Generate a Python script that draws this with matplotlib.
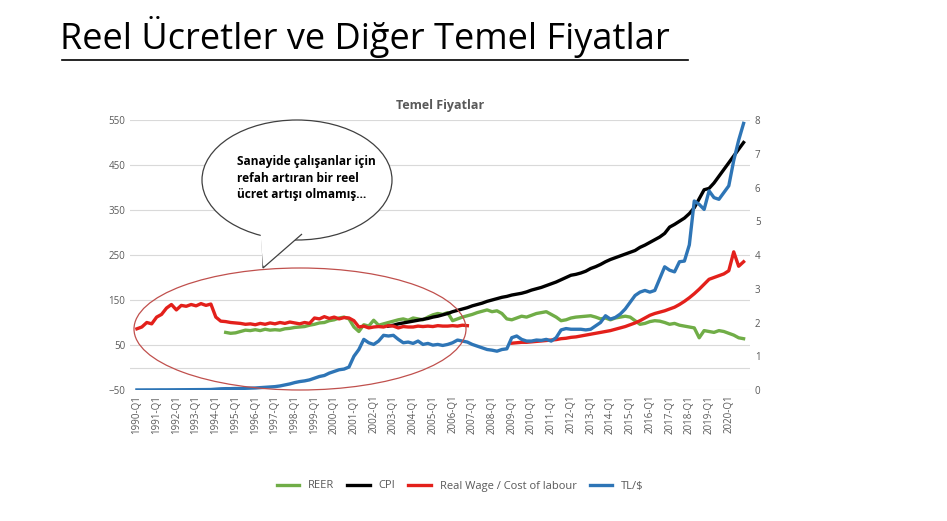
import numpy as np
import matplotlib
matplotlib.use("Agg")
import matplotlib.pyplot as plt
from matplotlib.patches import Ellipse, Polygon

nan = np.nan
years = list(range(1990, 2021))
quarters = [f"{y}-Q{q}" for y in years for q in range(1, 5)]

# Real wage / cost of labour (left axis)
real_wage = [
    86, 90, 100, 97,  112, 118, 132, 140,  128, 138, 136, 140,  137, 142, 138, 141,
    112, 103, 102, 100,  99, 98, 96, 97,  95, 98, 96, 99,  97, 100, 98, 101,
    99, 97, 100, 98,  110, 108, 113, 109,  112, 108, 111, 110,  104, 90, 92, 88,
    90, 91, 90, 93,  92, 88, 91, 90,  90, 92, 91, 92,  91, 93, 92, 92,
    93, 92, 94, 93,  nan, nan, nan, nan,  nan, nan, nan, nan,
    54, 55, 56, 56,  57, 58, 59, 60,  61, 62, 64, 65,  67, 68, 70, 72,
    74, 76, 78, 80,  82, 85, 88, 91,  95, 99, 104, 110,  116, 120, 123, 126,
    130, 134, 140, 147,  155, 164, 174, 185,  196, 200, 204, 208,  215, 257, 225, 235,
]

# CPI (left axis)
cpi = [nan] * 51 + [
    92,  94, 97, 99, 101,  103, 105, 107, 109,  112, 114, 117, 120,
    124, 127, 130, 133,  137, 140, 143, 147,  150, 153, 156, 158,
    161, 163, 165, 168,  172, 175, 178, 182,  186, 190, 195, 200,
    205, 207, 210, 214,  220, 224, 229, 235,  240, 244, 248, 252,
    256, 260, 267, 272,  278, 284, 290, 298,  312, 318, 325, 332,
    342, 355, 375, 395,  398, 410, 425, 440,  455, 470, 485, 500,
]

# REER (left axis)
reer = [nan] * 18 + [
    78, 76,  77, 80, 83, 82,  84, 82, 85, 83,  84, 83, 86, 87,  89, 90, 91, 94,
    96, 99, 100, 104,  106, 110, 112, 108,  90, 80, 95, 92,  105, 94, 97, 100,
    103, 106, 108, 105,  110, 108, 106, 112,  117, 120, 118, 122,  104, 108, 112, 115,
    118, 122, 125, 128,  124, 126, 120, 108,  106, 110, 114, 112,  116, 120, 122, 124,
    118, 112, 104, 106,  110, 112, 113, 114,  115, 112, 108, 110,  106, 110, 112, 114,
    112, 104, 96, 98,  102, 104, 103, 100,  96, 98, 94, 92,  90, 88, 66, 82,
    80, 78, 82, 80,  76, 72, 66, 64,
]

# TL/$ (right axis)
tl_usd = [
    .002, .002, .003, .003,  .004, .005, .005, .006,  .007, .008, .009, .010,  .011, .012, .013, .015,
    .025, .035, .04, .04,  .045, .045, .05, .055,  .06, .07, .08, .09,  .10, .12, .15, .18,
    .22, .25, .27, .30,  .35, .40, .43, .50,  .55, .60, .62, .68,  1.0, 1.2, 1.5, 1.4,
    1.35, 1.45, 1.62, 1.6,  1.62, 1.5, 1.4, 1.42,  1.38, 1.45, 1.35, 1.38,  1.33, 1.35, 1.32, 1.35,
    1.4, 1.48, 1.45, 1.42,  1.35, 1.3, 1.25, 1.2,  1.18, 1.15, 1.2, 1.22,  1.55, 1.6, 1.5, 1.45,
    1.45, 1.48, 1.47, 1.5,  1.45, 1.55, 1.78, 1.82,  1.8, 1.8, 1.8, 1.78,  1.8, 1.9, 2.0, 2.2,
    2.1, 2.15, 2.25, 2.4,  2.6, 2.8, 2.9, 2.95,  2.9, 2.95, 3.3, 3.65,  3.55, 3.5, 3.8, 3.82,
    4.3, 5.6, 5.5, 5.35,  5.9, 5.7, 5.65, 5.85,  6.05, 6.8, 7.4, 7.9,
]

left_ticks = [-50, 50, 150, 250, 350, 450, 550]
right_ticks = list(range(0, 9))

W, H = 947, 521
fig = plt.figure(figsize=(W / 100, H / 100), dpi=100)
plt.rcParams["font.family"] = "Open Sans"

ax = fig.add_axes([130 / W, 1 - 390 / H, 620 / W, 270 / H])
x = np.arange(len(quarters))
grey = "#595959"
ax.plot(x, reer, color="#70AD47", lw=2.4, label="REER")
ax.plot(x, cpi, color="black", lw=2.4, label="CPI")
ax.plot(x, real_wage, color="#E3201B", lw=2.4, label="Real Wage / Cost of labour")
ax.set_ylim(-50, 550)
ax.set_xlim(-1.4, 124.3)
ax.set_yticks(left_ticks)
for v in left_ticks + [0]:
    ax.axhline(v, color="#D9D9D9", lw=0.8, zorder=0)
ax.set_xticks(x[::4])
ax.set_xticklabels(quarters[::4], rotation=90, fontsize=7, color=grey)
ax.tick_params(axis="y", labelsize=7, colors=grey, length=0)
ax.tick_params(axis="x", length=0)
for s in ax.spines.values():
    s.set_visible(False)

ax2 = ax.twinx()
ax2.plot(x, tl_usd, color="#2E75B6", lw=2.4, label="TL/$")
ax2.set_ylim(0, 8)
ax2.set_yticks(right_ticks)
ax2.tick_params(axis="y", labelsize=7, colors=grey, length=0)
for s in ax2.spines.values():
    s.set_visible(False)

ax.set_title("Temel Fiyatlar", fontsize=9, fontweight="bold", color=grey, pad=8)

h1, l1 = ax.get_legend_handles_labels()
h2, l2 = ax2.get_legend_handles_labels()
fig.legend(h1 + h2, l1 + l2, loc="center", bbox_to_anchor=(460 / W, 1 - 486 / H),
           ncol=4, frameon=False, fontsize=8, handlelength=2, columnspacing=1.2,
           labelcolor=grey)

# overlay in pixel coordinates for annotations
ov = fig.add_axes([0, 0, 1, 1], zorder=10)
ov.set_xlim(0, W)
ov.set_ylim(H, 0)
ov.axis("off")
ov.patch.set_alpha(0)

ov.text(60, 37, "Reel Ücretler ve Diğer Temel Fiyatlar", fontsize=26, va="center", ha="left")
ov.plot([62, 688], [60, 60], color="black", lw=1.2)

ov.add_patch(Ellipse((300, 329), 332, 122, fill=False, ec="#C0504D", lw=0.9))
ov.add_patch(Ellipse((297, 180), 190, 120, fc="white", ec="#404040", lw=0.9))
ov.add_patch(Polygon([(262, 232), (263, 268), (302, 234)], closed=False,
                     fc="white", ec="#404040", lw=0.9))
ov.add_patch(Polygon([(260, 226), (263, 266), (304, 230)], closed=True,
                     fc="white", ec="none"))
ov.text(237, 178, "Sanayide çalışanlar için\nrefah artıran bir reel\nücret artışı olmamış…",
        fontsize=8.6, fontweight="bold", va="center", ha="left", linespacing=1.35)

fig.savefig("out.png", dpi=100)
